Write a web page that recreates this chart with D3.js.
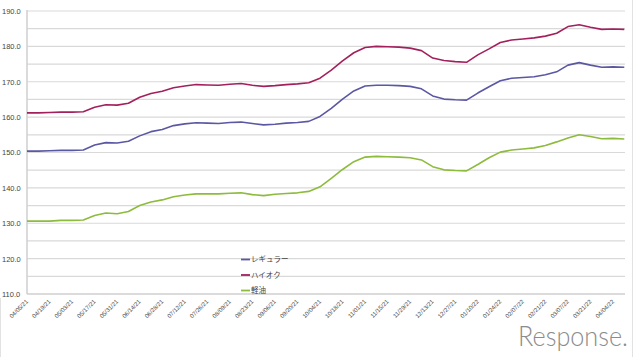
<!DOCTYPE html>
<html><head><meta charset="utf-8">
<script src="https://cdn.jsdelivr.net/npm/d3@7"></script>
<style>body{margin:0;background:#fff}svg{display:block}</style>
</head><body>
<svg id="c" width="640" height="357"></svg>
<script>
const dates = ["04/05/21","04/12/21","04/19/21","04/26/21","05/03/21","05/10/21","05/17/21","05/24/21","05/31/21","06/07/21","06/14/21","06/21/21","06/28/21","07/05/21","07/12/21","07/19/21","07/26/21","08/02/21","08/09/21","08/16/21","08/23/21","08/30/21","09/06/21","09/13/21","09/20/21","09/27/21","10/04/21","10/11/21","10/18/21","10/25/21","11/01/21","11/08/21","11/15/21","11/22/21","11/29/21","12/06/21","12/13/21","12/20/21","12/27/21","01/03/22","01/10/22","01/17/22","01/24/22","01/31/22","02/07/22","02/14/22","02/21/22","02/28/22","03/07/22","03/14/22","03/21/22","03/28/22","04/04/22","04/11/22"];
const regular = [150.4,150.4,150.5,150.6,150.6,150.7,152.1,152.8,152.7,153.2,154.7,155.9,156.5,157.6,158.1,158.4,158.3,158.2,158.5,158.6,158.2,157.8,158.0,158.3,158.5,158.8,160.2,162.5,165.1,167.4,168.8,169.0,169.0,168.9,168.7,168.0,166.0,165.1,164.9,164.8,166.8,168.6,170.3,171.0,171.2,171.4,172.0,172.8,174.7,175.4,174.7,174.1,174.2,174.1];
const highOctane = [161.2,161.2,161.3,161.4,161.4,161.5,162.8,163.5,163.4,163.9,165.6,166.7,167.3,168.3,168.8,169.2,169.1,169.0,169.3,169.5,169.0,168.7,168.9,169.2,169.4,169.7,171.0,173.3,175.9,178.2,179.7,180.0,179.9,179.8,179.5,178.8,176.7,176.0,175.7,175.5,177.6,179.3,181.1,181.8,182.1,182.4,182.9,183.7,185.6,186.1,185.4,184.8,184.9,184.8];
const diesel = [130.6,130.6,130.6,130.8,130.8,130.9,132.2,132.9,132.7,133.3,135.0,136.0,136.6,137.5,138.0,138.3,138.3,138.3,138.5,138.6,138.1,137.8,138.2,138.4,138.6,139.0,140.3,142.7,145.2,147.4,148.7,148.9,148.8,148.7,148.5,147.9,146.0,145.1,144.9,144.8,146.6,148.5,150.1,150.7,151.0,151.3,152.0,153.0,154.1,155.0,154.5,153.9,154.0,153.8];
const seriesNames = ["レギュラー","ハイオク","軽油"];
const seriesColors = ["#5a57a3","#a3205c","#8dbb3c"];
const yTicks = [110,120,130,140,150,160,170,180,190];
const xLabels = dates.filter((d,i)=>i%2===0 && i<=52);

const svg = d3.select("#c");
const L=27, R=625, T=11, B=294;
const x = d3.scalePoint().domain(dates).range([L, 624.3]);
const y = d3.scaleLinear().domain([110,190]).range([B, T]);

// frame
svg.append("line").attr("x1",632.5).attr("x2",632.5).attr("y1",0).attr("y2",357).attr("stroke","#e2e2e2");
svg.append("line").attr("x1",0.5).attr("x2",0.5).attr("y1",298).attr("y2",357).attr("stroke","#e2e2e2");

// gridlines every 5
const grid = d3.range(115,191,5);
svg.append("g").selectAll("line").data(grid).join("line")
  .attr("x1",L).attr("x2",R).attr("y1",d=>y(d)).attr("y2",d=>y(d))
  .attr("stroke","#d9d9d9").attr("stroke-width",1.2);

// y axis
const ya = svg.append("g").attr("transform",`translate(${L},0)`)
  .call(d3.axisLeft(y).tickValues(yTicks).tickFormat(d3.format(".1f")).tickSize(0).tickPadding(0));
ya.select(".domain").remove();
ya.selectAll("text").attr("x",-25).attr("text-anchor","start")
  .style("font-family","Liberation Sans, Arial, sans-serif").style("font-size","7.5px").attr("fill","#444");
svg.append("line").attr("x1",L).attr("x2",L).attr("y1",T-1).attr("y2",B).attr("stroke","#cfcfcf").attr("stroke-width",1.5);
svg.append("line").attr("x1",L).attr("x2",R).attr("y1",B).attr("y2",B).attr("stroke","#cfcfcf").attr("stroke-width",1.5);

// x axis labels
const xa = svg.append("g").attr("transform",`translate(0,${B})`)
  .call(d3.axisBottom(x).tickValues(xLabels).tickSize(0).tickPadding(0));
xa.select(".domain").remove();
xa.selectAll("text").attr("y",0).attr("dy",0)
  .attr("transform","translate(1,8) rotate(-45)")
  .attr("text-anchor","end")
  .style("font-family","Liberation Sans, Arial, sans-serif").style("font-size","6px").attr("fill","#444");

// lines
const allSeries = [regular, highOctane, diesel];
const line = d3.line().x((d,i)=>x(dates[i])).y(d=>y(d));
svg.append("g").selectAll("path").data(allSeries).join("path")
  .attr("d",line).attr("fill","none")
  .attr("stroke",(d,i)=>seriesColors[i]).attr("stroke-width",1.6).attr("stroke-linejoin","round");

// legend
const lg = svg.append("g").selectAll("g").data(seriesNames).join("g")
  .attr("transform",(d,i)=>`translate(241,${259.5+i*15.5})`);
lg.append("line").attr("x1",0).attr("x2",9).attr("stroke",(d,i)=>seriesColors[i]).attr("stroke-width",1.8);
lg.append("text").attr("x",10).attr("dy","0.35em").text(d=>d)
  .style("font-family","Noto Sans CJK JP, sans-serif").style("font-size","7.5px").attr("fill","#444");

// logo
svg.append("text").attr("x",518).attr("y",346).text("Response.")
  .attr("textLength",110).attr("lengthAdjust","spacingAndGlyphs")
  .style("font-family","Lato, sans-serif").style("font-weight","300").style("font-size","28px").attr("fill","#8c8c8c");
</script>
</body></html>
